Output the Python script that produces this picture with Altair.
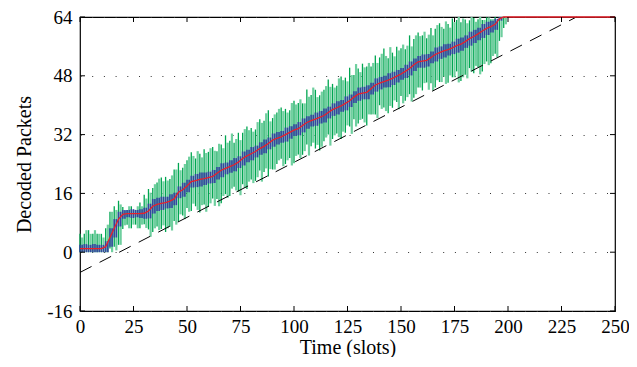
import altair as alt
import pandas as pd

# ---- data ----
slots = list(range(0, 200, 2))
mean = [1, 1, 1, 1, 1, 1, 1.5, 4, 6.5, 9,
        10.3, 10.5, 10.5, 10.5, 10.5, 10.6, 11.2, 12.5, 13, 13.3,
        13.5, 13.9, 14.5, 16.3, 17, 18, 19.2, 19.5, 19.8, 20,
        20.3, 20.6, 21.5, 22.3, 22.8, 23.3, 23.8, 24.5, 25.5, 26.2,
        26.8, 27.4, 28.2, 28.8, 29.6, 30.5, 31, 31.4, 32, 32.6,
        33.2, 33.6, 34.5, 35.3, 35.8, 36.2, 36.7, 37.2, 38, 38.8,
        39.3, 39.8, 40.5, 41.2, 42.2, 43, 43.3, 43.5, 44.5, 45.5,
        46, 46.4, 46.8, 47.3, 47.9, 48.5, 49.2, 50, 51, 51.8,
        52, 52.2, 53, 53.8, 54.3, 54.8, 55.1, 55.6, 56.2, 56.6,
        57.3, 58.1, 58.7, 59.4, 60.2, 60.9, 61.4, 62, 63.5, 64]
up_a = [4, 4, 5, 4, 4, 4, 5, 7, 6, 5,
        2, 1, 2, 1, 3, 5, 6, 5, 6, 7,
        7, 6, 8, 8, 6, 7, 8, 6, 7, 8,
        7, 8, 6, 7, 9, 7, 6, 8, 7, 8,
        7, 6, 8, 7, 9, 6, 7, 8, 7, 6,
        8, 7, 6, 9, 7, 8, 6, 7, 9, 7,
        6, 8, 7, 9, 6, 7, 8, 7, 6, 8,
        7, 9, 6, 7, 8, 7, 6, 9, 7, 8,
        7, 6, 8, 7, 8, 6, 7, 8, 7, 6,
        6, 5, 5, 4, 3, 3, 2, 2, 0.5, 0]
dn_a = [1, 1, 1, 1, 1, 1, 1.5, 3, 5, 7,
        4, 3, 4, 3, 4, 3, 5, 7, 6, 7,
        8, 7, 6, 8, 7, 6, 8, 7, 9, 7,
        8, 6, 7, 9, 7, 8, 6, 8, 7, 9,
        7, 8, 6, 7, 9, 8, 7, 6, 8, 7,
        9, 7, 8, 6, 7, 8, 9, 7, 6, 8,
        7, 9, 8, 7, 6, 8, 7, 9, 7, 8,
        6, 7, 9, 8, 7, 6, 8, 7, 9, 7,
        8, 6, 7, 9, 8, 7, 9, 8, 7, 10,
        9, 8, 10, 9, 11, 9, 10, 8, 6, 3]
up_b = [3, 5, 4, 5, 4, 3, 6, 7, 5, 4,
        1, 2, 1, 2, 2, 4, 5, 6, 7, 6,
        6, 7, 8, 6, 7, 8, 7, 8, 6, 7,
        8, 7, 8, 6, 7, 9, 7, 6, 8, 7,
        6, 8, 7, 9, 6, 7, 8, 7, 6, 8,
        7, 8, 6, 7, 9, 6, 7, 8, 7, 6,
        8, 7, 6, 7, 9, 6, 7, 8, 7, 6,
        8, 7, 9, 6, 7, 8, 7, 6, 8, 7,
        8, 7, 6, 8, 7, 8, 6, 7, 8, 7,
        5, 6, 4, 5, 3, 3, 2, 1, 0.5, 0]
dn_b = [1, 1, 1, 1, 1, 1, 1.5, 4, 6, 7,
        3, 4, 3, 4, 3, 4, 7, 6, 7, 6,
        7, 8, 7, 6, 8, 7, 6, 8, 7, 9,
        7, 8, 9, 7, 8, 6, 7, 9, 8, 7,
        8, 7, 9, 6, 7, 8, 6, 8, 7, 9,
        7, 8, 7, 9, 6, 7, 8, 6, 9, 7,
        8, 7, 6, 9, 8, 7, 8, 6, 7, 9,
        7, 8, 7, 6, 9, 8, 7, 9, 8, 7,
        6, 8, 9, 7, 8, 9, 7, 8, 10, 9,
        10, 9, 8, 11, 9, 10, 8, 9, 5, 2]
blue_half = [1, 1.2, 1, 1.2, 1, 1, 1.5, 2.5, 2.5, 2,
             1.2, 1, 1.2, 1, 1.2, 1.5, 2, 2, 1.8, 1.8,
             1.6, 1.9, 1.7, 1.6, 1.9, 1.7, 1.6, 1.8, 1.9, 1.7,
             1.6, 1.8, 1.7, 1.9, 1.6, 1.7, 1.8, 1.6, 1.9, 1.7,
             1.8, 1.6, 1.7, 1.9, 1.6, 1.8, 1.7, 1.6, 1.9, 1.7,
             1.6, 1.8, 1.9, 1.7, 1.6, 1.8, 1.7, 1.9, 1.6, 1.7,
             1.8, 1.6, 1.9, 1.7, 1.6, 1.8, 1.7, 1.9, 1.6, 1.8,
             1.7, 1.6, 1.9, 1.8, 1.7, 1.6, 1.8, 1.9, 1.7, 1.6,
             1.8, 1.7, 1.6, 1.9, 1.7, 1.8, 1.6, 1.7, 1.9, 1.8,
             1.7, 1.9, 1.8, 1.7, 1.9, 1.8, 1.6, 1.5, 0.5, 0]
tail_x = [250]
tail_y = [64]
diag_x = [0, 232]
diag_y = [-5.5, 64]
x_ticks = list(range(0, 251, 25))
y_ticks = list(range(-16, 65, 16))

rows = []
for s, m, ua, da, ub, db, b in zip(slots, mean, up_a, dn_a, up_b, dn_b, blue_half):
    rows.append(dict(slot=s, kind="a", lo=max(0, m - da), hi=min(64, m + ua),
                     blo=max(0, m - b), bhi=min(64, m + b)))
    rows.append(dict(slot=s + 1, kind="b", lo=max(0, m - db), hi=min(64, m + ub),
                     blo=max(0, m - b), bhi=min(64, m + b)))
bars = pd.DataFrame(rows)
bars_a = bars[bars.kind == "a"]
bars_b = bars[bars.kind == "b"]
red_df = pd.DataFrame({"x": slots + tail_x, "y": mean + tail_y})
diag_df = pd.DataFrame({"x": diag_x, "y": diag_y})
xt_df = pd.DataFrame({"t": x_ticks})
yt_df = pd.DataFrame({"t": y_ticks})

W, H = 535, 294
FONT = "'Liberation Serif', 'Times New Roman', Times, serif"
xs = alt.Scale(domain=[0, 250], nice=False, zero=False)
ys = alt.Scale(domain=[-16, 64], nice=False, zero=False)
xax = alt.Axis(values=x_ticks, ticks=False, domain=False, grid=False,
               labelPadding=6, titlePadding=1, labelFlush=False,
               labelFont=FONT, titleFont=FONT)
yax = alt.Axis(values=y_ticks, ticks=False, domain=False, grid=True,
               gridDash=[1, 10.7], gridColor="#333333", gridWidth=1,
               labelPadding=8, titlePadding=12,
               labelExpr="'' + datum.value",
               labelFont=FONT, titleFont=FONT)
XT = "Time (slots)"
YT = "Decoded Packets"


def X(f):
    return alt.X(f, scale=xs, axis=xax, title=XT)


def Y(f):
    return alt.Y(f, scale=ys, axis=yax, title=YT)


green_b = alt.Chart(bars_b).mark_rule(color="#6fcf9f", strokeWidth=2.2).encode(
    x=X("slot:Q"), y=Y("lo:Q"), y2="hi:Q")
green_a = alt.Chart(bars_a).mark_rule(color="#00a651", strokeWidth=1.3).encode(
    x=X("slot:Q"), y=Y("lo:Q"), y2="hi:Q")
blue = alt.Chart(bars).mark_rule(color="#3446a0", strokeWidth=1.6).encode(
    x=X("slot:Q"), y=Y("blo:Q"), y2="bhi:Q")
red = alt.Chart(red_df).mark_line(color="#e8202a", strokeWidth=1.3).encode(
    x=X("x:Q"), y=Y("y:Q"))
diag = alt.Chart(diag_df).mark_line(color="black", strokeWidth=1, strokeDash=[13, 9]).encode(
    x=X("x:Q"), y=Y("y:Q"))
tk = dict(color="black", strokeWidth=1)
bt = alt.Chart(xt_df).mark_rule(**tk).encode(
    x=X("t:Q"), y=alt.value(H), y2=alt.value(H - 5))
tt = alt.Chart(xt_df).mark_rule(**tk).encode(
    x=X("t:Q"), y=alt.value(0), y2=alt.value(5))
lt = alt.Chart(yt_df).mark_rule(**tk).encode(
    y=Y("t:Q"), x=alt.value(0), x2=alt.value(5))
rt = alt.Chart(yt_df).mark_rule(**tk).encode(
    y=Y("t:Q"), x=alt.value(W), x2=alt.value(W - 5))

chart = alt.layer(green_b, green_a, blue, diag, red, bt, tt, lt, rt).properties(
    width=W, height=H,
    autosize=alt.AutoSizeParams(type="none"),
    padding={"left": 72, "top": 9, "right": 14, "bottom": 46},
    background="white",
).configure_view(
    stroke="black", strokeWidth=1.2
).configure_axis(
    labelFont=FONT, titleFont=FONT, labelFontSize=19, titleFontSize=20,
    labelColor="black", titleColor="black", titleFontWeight="normal",
)

chart.save("out.html", embed_options={"renderer": "svg", "actions": False})
